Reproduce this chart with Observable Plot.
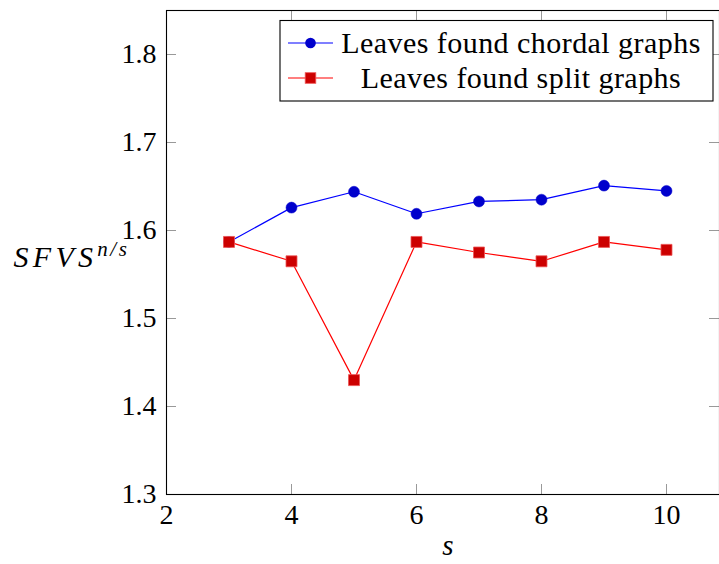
<!DOCTYPE html>
<html><head><meta charset="utf-8">
<script src="https://cdn.jsdelivr.net/npm/d3@7"></script>
<script src="https://cdn.jsdelivr.net/npm/@observablehq/plot@0.6"></script>
<style>
body{margin:0;background:#fff}
#chart{position:relative;width:719px;height:564px;overflow:hidden}
</style>
</head><body><div id="chart"></div>
<script>
// ---- data ----
const sValues = [3, 4, 5, 6, 7, 8, 9, 10];
const chordal = [1.587, 1.626, 1.644, 1.619, 1.633, 1.635, 1.651, 1.645];
const split   = [1.587, 1.565, 1.430, 1.587, 1.575, 1.565, 1.587, 1.578];
const seriesNames = ["Leaves found chordal graphs", "Leaves found split graphs"];
const xTicks = [2, 4, 6, 8, 10];
const yTicks = [1.3, 1.4, 1.5, 1.6, 1.7, 1.8];
const xLabel = "s";
const yLabel = "SFVS";
const yLabelSup = "n/s";

// ---- layout ----
const W = 719, H = 564, mL = 166, mT = 10, mR = 0, mB = 70;
const innerW = W - mL - mR, innerH = H - mT - mB;
const tickLen = 10;
const FONT = "Liberation Serif, Times New Roman, serif";
const blueLine = "#0000ff", blueFill = "#0000cc";
const redLine = "#ff0000", redFill = "#cc0000", redEdge = "#ee5555";

const chordalData = sValues.map((s, i) => ({s, v: chordal[i]}));
const splitData = sValues.map((s, i) => ({s, v: split[i]}));
const xInner = xTicks.filter(d => d > 2);
const yInner = yTicks.filter(d => d > 1.3);

const plot = Plot.plot({
  width: W, height: H,
  marginLeft: mL, marginTop: mT, marginRight: mR, marginBottom: mB,
  style: {fontFamily: FONT, fontSize: "28px", color: "#000", background: "#fff", overflow: "visible"},
  x: {domain: [2, 10.848]},
  y: {domain: [1.3, 1.85]},
  marks: [
    Plot.tickX(xInner, {x: d => d, stroke: "#999", strokeWidth: 1, insetTop: innerH - tickLen}),
    Plot.tickX(xInner, {x: d => d, stroke: "#999", strokeWidth: 1, insetBottom: innerH - tickLen}),
    Plot.tickY(yInner, {y: d => d, stroke: "#999", strokeWidth: 1, insetRight: innerW - tickLen}),
    Plot.tickY(yInner, {y: d => d, stroke: "#999", strokeWidth: 1, insetLeft: innerW - tickLen}),
    Plot.frame({stroke: "#000", strokeWidth: 1.1}),
    Plot.axisX({ticks: xTicks, tickSize: 0, tickPadding: 10, tickFormat: d => String(d), label: null, fontSize: 28}),
    Plot.axisY({ticks: yTicks, tickSize: 0, tickPadding: 10, tickFormat: d => d.toFixed(1), label: null, fontSize: 28}),
    Plot.line(chordalData, {x: "s", y: "v", stroke: blueLine, strokeWidth: 1.2}),
    Plot.dot(chordalData, {x: "s", y: "v", r: 5.5, fill: blueFill, stroke: blueFill, strokeWidth: 0.5}),
    Plot.line(splitData, {x: "s", y: "v", stroke: redLine, strokeWidth: 1.2}),
    Plot.dot(splitData, {x: "s", y: "v", symbol: "square", r: 6.2, fill: redFill, stroke: redEdge, strokeWidth: 0.8}),
    Plot.text([xLabel], {text: d => d, frameAnchor: "bottom", dx: 5, dy: 60, fontStyle: "italic", fontSize: 29}),
    Plot.text([yLabel], {text: d => d, frameAnchor: "left", dx: -153, dy: 4.5, textAnchor: "start", fontStyle: "italic", fontSize: 30}),
  ]
});

const svg = d3.select(plot);
svg.selectAll("text").filter(function() { return this.textContent === yLabel; })
  .attr("letter-spacing", "4.3px")
  .append("tspan").attr("dy", "-11").attr("font-size", "21px").attr("letter-spacing", "2.5px").text(yLabelSup);

const lg = svg.append("g").attr("font-family", FONT).attr("font-size", 30);
lg.append("rect").attr("x", 280).attr("y", 20.5).attr("width", 433).attr("height", 80.5)
  .attr("fill", "#fff").attr("stroke", "#000").attr("stroke-width", 1.1);
const entries = [
  {name: seriesNames[0], line: blueLine, fill: blueFill, sym: "circle"},
  {name: seriesNames[1], line: redLine, fill: redFill, sym: "square"}
];
entries.forEach((e, i) => {
  const cy = 43 + i * 35;
  lg.append("line").attr("x1", 288).attr("x2", 333).attr("y1", cy).attr("y2", cy)
    .attr("stroke", e.line).attr("stroke-width", 1.2);
  if (e.sym === "circle") {
    lg.append("circle").attr("cx", 310.5).attr("cy", cy).attr("r", 5.3).attr("fill", e.fill);
  } else {
    lg.append("rect").attr("x", 305.2).attr("y", cy - 5.3).attr("width", 10.6).attr("height", 10.6)
      .attr("fill", e.fill).attr("stroke", redEdge).attr("stroke-width", 0.8);
  }
  lg.append("text").attr("x", 521).attr("y", cy).attr("dy", "0.34em")
    .attr("letter-spacing", "0.45px")
    .attr("text-anchor", "middle").text(e.name);
});

document.getElementById("chart").appendChild(plot);
</script>
</body></html>
